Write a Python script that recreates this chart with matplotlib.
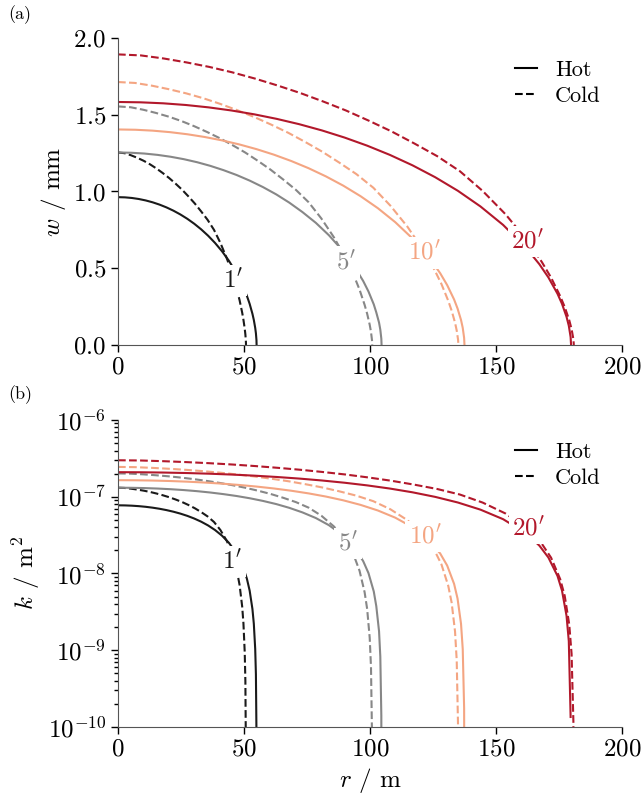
import matplotlib
matplotlib.use("Agg")
import matplotlib.pyplot as plt
from matplotlib.lines import Line2D

plt.rcParams['font.family'] = 'serif'
plt.rcParams['font.serif'] = ['cmr10']
plt.rcParams['mathtext.fontset'] = 'cm'
plt.rcParams['axes.unicode_minus'] = False
plt.rcParams['axes.formatter.use_mathtext'] = True

nan = float('nan')

# 1' crack
r_1_hot = [0, 2.75, 5.5, 8.25, 11, 13.75, 16.5, 19.25, 22, 24.75, 27.5, 30.25, 33, 35.75, 38.5,
           41.25, 44, 46.75, 49.5, 51.15, 52.25, 53.35, 53.9, 54.45, 54.73, 54.95, 55.0]
w_1_hot = [0.963, 0.9617, 0.9577, 0.9510, 0.9416, 0.9294, 0.9143, 0.8962, 0.8749, 0.8503, 0.8221,
           0.7899, 0.7534, 0.7120, 0.6649, 0.6112, 0.5490, 0.4758, 0.3863, 0.3203, 0.2677, 0.2032,
           0.1631, 0.1117, 0.0764, 0.0315, 0.0]
k_1_hot = [7.728e-8, 7.707e-8, 7.643e-8, 7.537e-8, 7.389e-8, 7.198e-8, 6.966e-8, 6.693e-8, 6.379e-8,
           6.025e-8, 5.632e-8, 5.199e-8, 4.730e-8, 4.225e-8, 3.684e-8, 3.113e-8, 2.512e-8, 1.887e-8,
           1.244e-8, 8.547e-9, 5.970e-9, 3.442e-9, 2.216e-9, 1.039e-9, 4.863e-10, 8.292e-11, 1e-12]
r_1_cold = [0, 2.54, 5.08, 7.62, 10.16, 12.7, 15.24, 17.78, 20.32, 22.86, 25.4, 27.94, 30.48, 33.02,
            35.56, 38.1, 40.64, 43.18, 45.72, 47.24, 48.26, 49.28, 49.78, 50.29, 50.55, 50.75, 50.8]
w_1_cold = [1.254, 1.2496, 1.2364, 1.2195, 1.2001, 1.1769, 1.1499, 1.1198, 1.0872, 1.0509, 1.0120,
            0.9681, 0.9217, 0.8697, 0.8151, 0.7499, 0.6646, 0.5643, 0.4452, 0.3574, 0.2909, 0.2110,
            0.1640, 0.1063, 0.0688, 0.0250, 0.0]
k_1_cold = [1.3104e-7, 1.3012e-7, 1.2740e-7, 1.2393e-7, 1.2001e-7, 1.1542e-7, 1.1019e-7, 1.0450e-7,
            9.850e-8, 9.202e-8, 8.534e-8, 7.810e-8, 7.079e-8, 6.302e-8, 5.536e-8, 4.686e-8, 3.681e-8,
            2.654e-8, 1.651e-8, 1.064e-8, 7.053e-9, 3.712e-9, 2.242e-9, 9.423e-10, 3.950e-10,
            5.19e-11, 1e-12]

# 5' crack
r_5_hot = [0, 5.23, 10.5, 15.69, 20.9, 26.15, 31.4, 36.61, 41.8, 47.07, 52.3, 57.53, 62.8, 67.99,
           73.2, 78.5, 83.7, 88.9, 94.1, 97.3, 99.4, 101.5, 102.5, 103.6, 104.1, 104.5, 104.6]
w_5_hot = [1.254, 1.2523, 1.2471, 1.2384, 1.2262, 1.2103, 1.1906, 1.1670, 1.1393, 1.1073, 1.0705,
           1.0286, 0.9810, 0.9272, 0.8658, 0.7959, 0.7149, 0.6196, 0.5031, 0.4170, 0.3485, 0.2646,
           0.2123, 0.1454, 0.0995, 0.0411, 0.0]
k_5_hot = [1.3104e-7, 1.3068e-7, 1.2960e-7, 1.2780e-7, 1.2529e-7, 1.2206e-7, 1.1813e-7, 1.1350e-7,
           1.0817e-7, 1.0216e-7, 9.549e-8, 8.817e-8, 8.020e-8, 7.163e-8, 6.247e-8, 5.278e-8, 4.259e-8,
           3.199e-8, 2.109e-8, 1.449e-8, 1.012e-8, 5.837e-9, 3.757e-9, 1.762e-9, 8.246e-10,
           1.406e-10, 1e-12]
r_5_cold = [0, 5.05, 10.09, 15.14, 20.18, 25.23, 30.27, 35.32, 40.36, 45.41, 50.45, 55.5, 60.54,
            65.59, 70.63, 75.68, 80.72, 85.77, 90.81, 93.84, 95.86, 97.87, 98.88, 99.89, 100.4,
            100.8, 100.9]
w_5_cold = [1.554, 1.5486, 1.5322, 1.5113, 1.4872, 1.4584, 1.4250, 1.3877, 1.3473, 1.3023, 1.2541,
            1.1997, 1.1422, 1.0777, 1.0101, 0.9293, 0.8236, 0.6993, 0.5517, 0.4429, 0.3605, 0.2615,
            0.2033, 0.1318, 0.0853, 0.0309, 0.0]
k_5_cold = [2.0124e-7, 1.9983e-7, 1.9564e-7, 1.9033e-7, 1.8430e-7, 1.7725e-7, 1.6922e-7, 1.6048e-7,
            1.5127e-7, 1.4132e-7, 1.3106e-7, 1.1994e-7, 1.0871e-7, 9.678e-8, 8.502e-8, 7.196e-8,
            5.653e-8, 4.075e-8, 2.536e-8, 1.635e-8, 1.083e-8, 5.700e-9, 3.443e-9, 1.447e-9,
            6.065e-10, 7.97e-11, 1e-12]

# 10' crack
r_10_hot = [0, 6.88, 13.75, 20.63, 27.5, 34.38, 41.25, 48.13, 55, 61.88, 68.75, 75.63, 82.5, 89.38,
            96.25, 103.13, 110, 116.88, 123.75, 127.88, 130.63, 133.38, 134.75, 136.13, 136.81,
            137.36, 137.5]
w_10_hot = [1.404, 1.4021, 1.3963, 1.3865, 1.3728, 1.3550, 1.3330, 1.3066, 1.2756, 1.2397, 1.1985,
            1.1516, 1.0984, 1.0381, 0.9694, 0.8911, 0.8004, 0.6937, 0.5633, 0.4669, 0.3902, 0.2963,
            0.2377, 0.1628, 0.1114, 0.0460, 0.0]
k_10_hot = [1.6427e-7, 1.6382e-7, 1.6246e-7, 1.6021e-7, 1.5706e-7, 1.5301e-7, 1.4808e-7, 1.4228e-7,
            1.3560e-7, 1.2807e-7, 1.1971e-7, 1.1052e-7, 1.0054e-7, 8.980e-8, 7.831e-8, 6.617e-8,
            5.339e-8, 4.011e-8, 2.644e-8, 1.817e-8, 1.269e-8, 7.317e-9, 4.710e-9, 2.209e-9,
            1.034e-9, 1.763e-10, 1e-12]
r_10_cold = [0, 6.76, 13.51, 20.27, 27.02, 33.78, 40.53, 47.29, 54.04, 60.8, 67.55, 74.31, 81.06,
             87.82, 94.57, 101.33, 108.08, 114.84, 121.59, 125.64, 128.35, 131.05, 132.4, 133.75,
             134.42, 134.96, 135.1]
w_10_cold = [1.713, 1.7070, 1.6890, 1.6659, 1.6393, 1.6077, 1.5708, 1.5297, 1.4852, 1.4355, 1.3824,
             1.3224, 1.2591, 1.1880, 1.1135, 1.0244, 0.9079, 0.7709, 0.6081, 0.4882, 0.3974, 0.2883,
             0.2241, 0.1453, 0.0940, 0.0341, 0.0]
k_10_cold = [2.4453e-7, 2.4282e-7, 2.3773e-7, 2.3127e-7, 2.2395e-7, 2.1538e-7, 2.0562e-7, 1.9500e-7,
             1.8381e-7, 1.7172e-7, 1.5925e-7, 1.4574e-7, 1.3210e-7, 1.1760e-7, 1.0331e-7, 8.745e-8,
             6.869e-8, 4.952e-8, 3.082e-8, 1.986e-8, 1.316e-8, 6.926e-9, 4.184e-9, 1.758e-9,
             7.370e-10, 9.68e-11, 1e-12]

# 20' crack
r_20_hot = [0, 8.99, 17.98, 26.97, 35.96, 44.95, 53.94, 62.93, 71.92, 80.91, 89.9, 98.89, 107.88,
            116.87, 125.86, 134.85, 143.84, 152.83, 161.82, 167.21, 170.81, 174.41, 176.2, 178.0,
            178.9, 179.62, 179.8]
w_20_hot = [1.583, 1.5808, 1.5743, 1.5633, 1.5479, 1.5278, 1.5030, 1.4732, 1.4383, 1.3978, 1.3513,
            1.2984, 1.2384, 1.1704, 1.0930, 1.0047, 0.9025, 0.7822, 0.6351, 0.5265, 0.4400, 0.3341,
            0.2681, 0.1836, 0.1256, 0.0519, 0.0]
k_20_hot = [2.0882e-7, 2.0825e-7, 2.0653e-7, 2.0366e-7, 1.9965e-7, 1.9451e-7, 1.8824e-7, 1.8086e-7,
            1.7238e-7, 1.6280e-7, 1.5217e-7, 1.4050e-7, 1.2780e-7, 1.1415e-7, 9.955e-8, 8.411e-8,
            6.787e-8, 5.098e-8, 3.361e-8, 2.310e-8, 1.613e-8, 9.301e-9, 5.987e-9, 2.809e-9,
            1.314e-9, 1.35e-10, nan]
r_20_cold = [0, 9.05, 18.09, 27.14, 36.18, 45.23, 54.27, 63.32, 72.36, 81.41, 90.45, 99.5, 108.54,
             117.59, 126.63, 135.68, 144.72, 153.77, 162.81, 168.24, 171.86, 175.47, 177.28,
             179.09, 180.0, 180.72, 180.9]
w_20_cold = [1.893, 1.8864, 1.8665, 1.8409, 1.8116, 1.7766, 1.7359, 1.6904, 1.6412, 1.5863, 1.5277,
             1.4614, 1.3914, 1.3128, 1.2305, 1.1320, 1.0033, 0.8519, 0.6720, 0.5395, 0.4392, 0.3186,
             0.2476, 0.1605, 0.1039, 0.0377, 0.0]
k_20_cold = [2.9862e-7, 2.9653e-7, 2.9032e-7, 2.8242e-7, 2.7349e-7, 2.6302e-7, 2.5111e-7, 2.3814e-7,
             2.2447e-7, 2.0970e-7, 1.9448e-7, 1.7797e-7, 1.6132e-7, 1.4362e-7, 1.2617e-7, 1.0679e-7,
             8.388e-8, 6.047e-8, 3.763e-8, 2.426e-8, 1.607e-8, 8.458e-9, 5.109e-9, 2.147e-9,
             9.000e-10, 1.183e-10, 1e-12]

labels = ["$1'$", "$5'$", "$10'$", "$20'$"]
colors = ['#1a1a1a', '#878787', '#f4a582', '#b2182b']
hot = [(r_1_hot, w_1_hot, k_1_hot), (r_5_hot, w_5_hot, k_5_hot),
       (r_10_hot, w_10_hot, k_10_hot), (r_20_hot, w_20_hot, k_20_hot)]
cold = [(r_1_cold, w_1_cold, k_1_cold), (r_5_cold, w_5_cold, k_5_cold),
        (r_10_cold, w_10_cold, k_10_cold), (r_20_cold, w_20_cold, k_20_cold)]
label_pos_w = [(45.6, 0.42), (90.7, 0.54), (121.5, 0.60), (162.6, 0.676)]
label_pos_k = [(45.4, 1.42e-8), (91.4, 2.47e-8), (121.9, 3.02e-8), (163.0, 3.89e-8)]

fig = plt.figure(figsize=(6.42, 7.96), dpi=100)
ax1 = fig.add_axes([0.1838, 0.5666, 0.785, 0.3857])
ax2 = fig.add_axes([0.1838, 0.0867, 0.785, 0.3857])

for i in range(4):
    ax1.plot(hot[i][0], hot[i][1], color=colors[i], lw=1.5)
    ax1.plot(cold[i][0], cold[i][1], color=colors[i], lw=1.5, ls='--')
    ax2.plot(hot[i][0], hot[i][2], color=colors[i], lw=1.5)
    ax2.plot(cold[i][0], cold[i][2], color=colors[i], lw=1.5, ls='--')
    for ax, pos in ((ax1, label_pos_w[i]), (ax2, label_pos_k[i])):
        ax.text(pos[0], pos[1], labels[i], color=colors[i], fontsize=18, ha='center', va='center',
                zorder=5, bbox=dict(boxstyle='square,pad=0.15', fc='white', ec='none'))

ax1.set_xlim(0, 200)
ax1.set_ylim(0, 2.0)
ax1.set_yticks([0, 0.5, 1.0, 1.5, 2.0])
ax1.set_ylabel('$w$ / mm', fontsize=18)

ax2.set_xlim(0, 200)
ax2.set_yscale('log')
ax2.set_ylim(1e-10, 1e-6)
ax2.set_ylabel('$k$ / m$^2$', fontsize=18)
ax2.set_xlabel('$r$ / m', fontsize=18)

handles = [Line2D([], [], color='black', lw=1.5), Line2D([], [], color='black', lw=1.5, ls='--')]
for ax in (ax1, ax2):
    ax.spines['top'].set_visible(False)
    ax.spines['right'].set_visible(False)
    ax.spines['left'].set_color('#555555')
    ax.spines['bottom'].set_color('#555555')
    ax.set_xticks([0, 50, 100, 150, 200])
    ax.tick_params(labelsize=18, length=5, width=1)
    ax.tick_params(which='minor', length=3, width=1)
    ax.legend(handles, ['Hot', 'Cold'], frameon=False, fontsize=16, loc='upper right',
              bbox_to_anchor=(0.998, 0.993), handlelength=1.0, handletextpad=0.8, labelspacing=0.3)

fig.text(0.031, 0.981, '(a)', fontsize=13, ha='center', va='center')
fig.text(0.031, 0.504, '(b)', fontsize=13, ha='center', va='center')

fig.savefig('out.png', dpi=100)
